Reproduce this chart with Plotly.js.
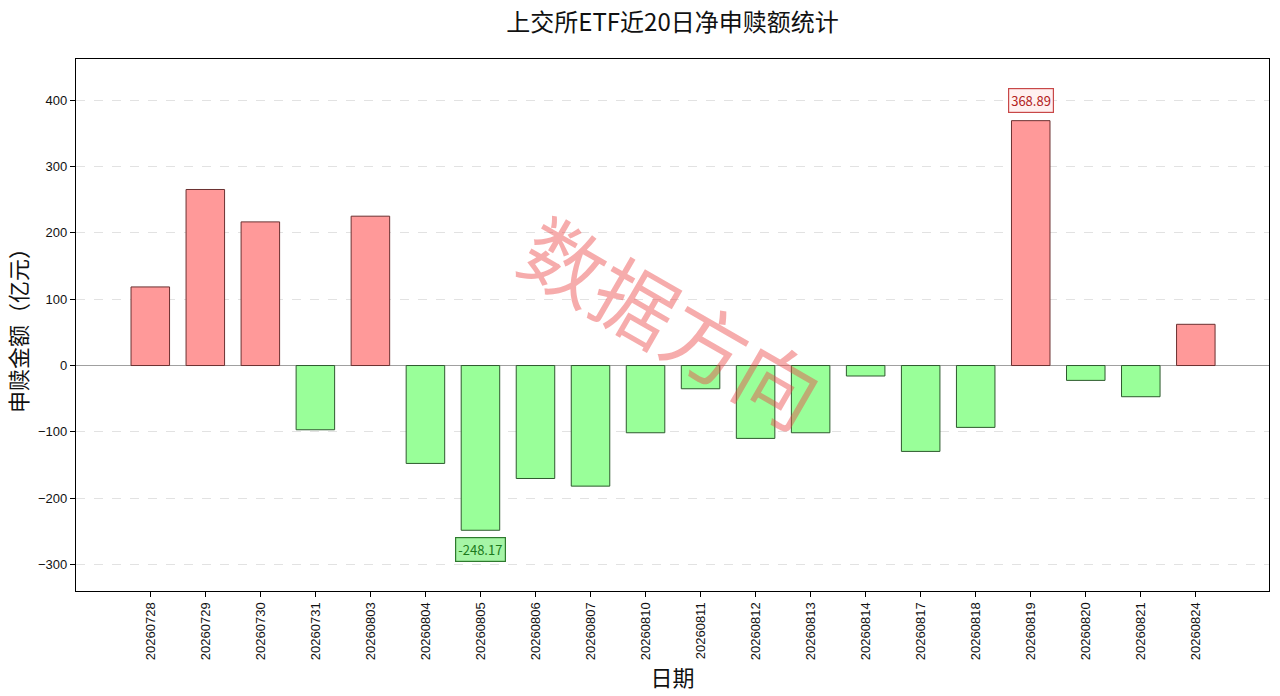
<!DOCTYPE html>
<html>
<head>
<meta charset="utf-8">
<script src="https://cdn.plot.ly/plotly-3.0.1.min.js"></script>
<style>html,body{margin:0;padding:0;background:#fff;}#chart{width:1280px;height:696px;}</style>
</head>
<body>
<div id="chart"></div>
<script>
const dates = ["20260728","20260729","20260730","20260731","20260803","20260804","20260805","20260806","20260807","20260810","20260811","20260812","20260813","20260814","20260817","20260818","20260819","20260820","20260821","20260824"];
const netFlow = [118.4, 265.2, 216.4, -96.8, 225.0, -147.5, -248.17, -170.2, -181.7, -101.3, -35.0, -109.8, -101.3, -15.8, -129.4, -93.2, 368.89, -22.4, -47.0, 62.1];
const yTicks = [-300, -200, -100, 0, 100, 200, 300, 400];

const cjk = '"Noto Sans CJK SC", "Noto Sans", sans-serif';
const latin = '"Liberation Sans", Arial, sans-serif';

const barColors = netFlow.map(v => v >= 0 ? '#ff9999' : '#99ff99');
const edgeColors = netFlow.map(v => v >= 0 ? '#6b3030' : '#2e5a2e');

let maxIdx = 0, minIdx = 0;
netFlow.forEach((v, i) => { if (v > netFlow[maxIdx]) maxIdx = i; if (v < netFlow[minIdx]) minIdx = i; });

const trace = {
  type: 'bar',
  x: dates,
  y: netFlow,
  width: 0.7,
  marker: { color: barColors, line: { color: edgeColors, width: 1 } },
  hoverinfo: 'x+y'
};

const layout = {
  width: 1280, height: 696,
  margin: { l: 76, r: 11, t: 59, b: 105 },
  paper_bgcolor: '#fff', plot_bgcolor: '#fff',
  showlegend: false,
  title: { text: '上交所ETF近20日净申赎额统计', xref: 'paper', x: 0.5, xanchor: 'center', y: 0.968, yanchor: 'middle',
           font: { family: cjk, size: 24, color: '#111' } },
  xaxis: {
    type: 'category',
    range: [-1.35, 20.33],
    tickangle: -90,
    ticks: 'outside', ticklen: 5, tickcolor: '#000',
    tickfont: { family: latin, size: 13, color: '#111' },
    showline: true, mirror: true, linecolor: '#000', linewidth: 1.2,
    showgrid: false,
    title: { text: '日期', font: { family: cjk, size: 22, color: '#111' }, standoff: 8 }
  },
  yaxis: {
    range: [-339.7, 461.8],
    tickvals: yTicks,
    ticks: 'outside', ticklen: 5, tickcolor: '#000',
    tickfont: { family: latin, size: 13, color: '#111' },
    showline: true, mirror: true, linecolor: '#000', linewidth: 1.2,
    showgrid: true, gridcolor: '#e2e2e2', griddash: 'dash', gridwidth: 1,
    zeroline: true, zerolinecolor: '#a0a0a0', zerolinewidth: 1.2,
    title: { text: '申赎金额（亿元）', font: { family: cjk, size: 22, color: '#111' }, standoff: 4 }
  },
  annotations: [
    {
      x: maxIdx, y: netFlow[maxIdx], xref: 'x', yref: 'y',
      text: netFlow[maxIdx].toFixed(2), showarrow: false,
      yanchor: 'bottom', yshift: 8,
      font: { family: cjk, size: 13, color: '#b22222' },
      bgcolor: '#fff0f0', bordercolor: '#c84848', borderwidth: 1.2, borderpad: 2
    },
    {
      x: minIdx, y: netFlow[minIdx], xref: 'x', yref: 'y',
      text: netFlow[minIdx].toFixed(2), showarrow: false,
      yanchor: 'top', yshift: -7,
      font: { family: cjk, size: 13, color: '#1c7a1c' },
      bgcolor: '#a6f5a6', bordercolor: '#2e7a2e', borderwidth: 1.2, borderpad: 2
    },
    {
      xref: 'paper', yref: 'paper', x: 0.5, y: 0.51,
      text: '数据方向', showarrow: false, textangle: 30,
      font: { family: cjk, size: 82, color: 'rgba(235,70,70,0.45)' }
    }
  ]
};

Plotly.newPlot('chart', [trace], layout, { displayModeBar: false, staticPlot: true });
</script>
</body>
</html>
